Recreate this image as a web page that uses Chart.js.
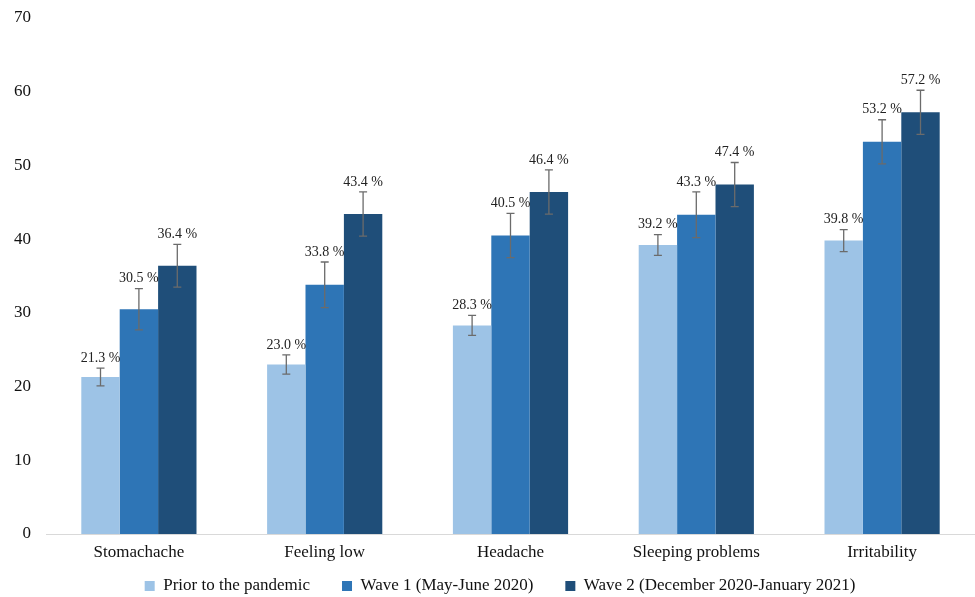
<!DOCTYPE html>
<html>
<head>
<meta charset="utf-8">
<script src="https://cdn.jsdelivr.net/npm/chart.js@4"></script>
<style>
  body { margin: 0; background: #fff; }
  #wrap { width: 975px; height: 597px; }
</style>
</head>
<body>
<div id="wrap"><canvas id="chart" width="975" height="597"></canvas></div>
<script>
let categories = ["Stomachache", "Feeling low", "Headache", "Sleeping problems", "Irritability"]
let seriesNames = ["Prior to the pandemic", "Wave 1 (May-June 2020)", "Wave 2 (December 2020-January 2021)"]
let prior = [21.3, 23.0, 28.3, 39.2, 39.8]
let wave1 = [30.5, 33.8, 40.5, 43.3, 53.2]
let wave2 = [36.4, 43.4, 46.4, 47.4, 57.2]
// error bar half widths
let priorErr = [1.2, 1.3, 1.35, 1.4, 1.5]
let wave1Err = [2.8, 3.1, 3.0, 3.1, 3.0]
let wave2Err = [2.9, 3.0, 3.0, 3.0, 3.0]
let yTicks = [0, 10, 20, 30, 40, 50, 60, 70]

let colors = ["#9DC3E6", "#2E75B6", "#1F4E79"]
let serif = "'Liberation Serif', 'DejaVu Serif', serif"

// whiskers + value labels
const errorBars = {
    id: "errorBars",
    afterDatasetsDraw(chart) {
        const ctx = chart.ctx
        const y = chart.scales.y
        chart.data.datasets.forEach((ds, di) => {
            const meta = chart.getDatasetMeta(di)
            meta.data.forEach((bar, i) => {
                const v = ds.data[i]
                const e = ds.err[i]
                const x = bar.x
                const top = y.getPixelForValue(v + e)
                const bot = y.getPixelForValue(v - e)
                ctx.save()
                ctx.strokeStyle = "#6b6b6b"
                ctx.lineWidth = 1.3
                ctx.beginPath()
                ctx.moveTo(x, top); ctx.lineTo(x, bot)
                ctx.moveTo(x - 4, top); ctx.lineTo(x + 4, top)
                ctx.moveTo(x - 4, bot); ctx.lineTo(x + 4, bot)
                ctx.stroke()
                ctx.fillStyle = "#222"
                ctx.font = "14px " + serif
                ctx.textAlign = "center"
                ctx.textBaseline = "bottom"
                ctx.fillText(v.toFixed(1) + " %", x, top - 3)
                ctx.restore()
            })
        })
    }
}

// keep the legend small in the layout, then place it where the original has it
const legendFix = {
    id: "legendFix",
    beforeUpdate(chart) {
        const lg = chart.legend
        if (lg && !lg._patched) {
            const fit = lg.fit
            lg.fit = function () { fit.call(this); this.height = 36 }
            lg._patched = true
        }
    },
    afterLayout(chart) {
        const lg = chart.legend
        lg.top = 545.5
        lg.bottom = 597
        lg.left += 12.5
        lg.right += 12.5
    }
}

new Chart(document.getElementById("chart"), {
    type: "bar",
    data: {
        labels: categories,
        datasets: [
            { label: seriesNames[0], data: prior, err: priorErr, backgroundColor: colors[0] },
            { label: seriesNames[1], data: wave1, err: wave1Err, backgroundColor: colors[1] },
            { label: seriesNames[2], data: wave2, err: wave2Err, backgroundColor: colors[2] },
        ]
    },
    options: {
        responsive: false,
        animation: false,
        categoryPercentage: 0.62,
        barPercentage: 1.0,
        layout: { padding: { top: 18, right: 0, left: 0, bottom: 0 } },
        plugins: {
            legend: {
                position: "bottom",
                labels: {
                    color: "#111",
                    font: { family: serif, size: 17 },
                    boxWidth: 10,
                    boxHeight: 10,
                    padding: 32
                }
            },
            tooltip: { enabled: false }
        },
        scales: {
            x: {
                afterFit: s => { s.height = 27 },
                grid: { display: false, drawTicks: false },
                border: { color: "#d9d9d9" },
                ticks: { color: "#111", font: { family: serif, size: 17 }, padding: 8 }
            },
            y: {
                min: 0,
                max: 70,
                afterBuildTicks: s => { s.ticks = yTicks.map(v => ({ value: v })) },
                afterFit: s => { s.width = 46; s.paddingTop = 0 },
                grid: { display: false, drawTicks: false },
                border: { display: false },
                ticks: { color: "#111", font: { family: serif, size: 17 }, padding: 15 }
            }
        }
    },
    plugins: [errorBars, legendFix]
})
</script>
</body>
</html>
